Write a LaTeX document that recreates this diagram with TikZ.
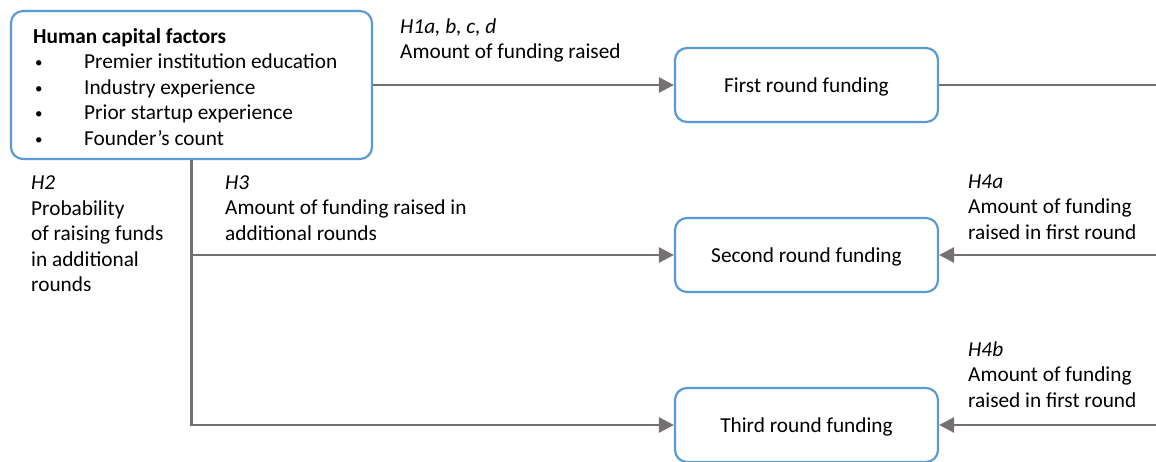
\documentclass[tikz,border=0pt]{standalone}
\usepackage{fontspec}
\setmainfont{Carlito}
\usetikzlibrary{arrows.meta}
\definecolor{boxblue}{RGB}{91,155,213}
\definecolor{arrgray}{RGB}{118,113,113}
\newcommand{\smbullet}{\makebox[51pt][l]{\hspace*{2pt}\raisebox{1pt}{\fontsize{15}{15}\selectfont•}}}
\begin{document}
\begin{tikzpicture}[x=1pt,y=-1pt,
  rbox/.style={draw=boxblue, line width=2.2pt, rounded corners=12pt, fill=white, inner sep=0pt,
    font=\fontsize{21.3}{25}\selectfont},
  conn/.style={draw=arrgray, line width=2.6pt},
  arr/.style={conn, -{Triangle[length=15pt,width=15pt]}},
  lbl/.style={anchor=north west, inner sep=0pt, align=left, font=\fontsize{21.3}{25.3}\selectfont},
  ]
\clip (0,0) rectangle (1156,461);
\useasboundingbox (0,0) rectangle (1156,461);
\fill[white] (0,0) rectangle (1156,461);

% boxes
\node[rbox, minimum width=361pt, minimum height=148pt] (hc) at (191.5,85) {};
\node[rbox, minimum width=263pt, minimum height=74pt, text height=14pt, text depth=0pt] (first) at (806.5,85) {First round funding};
\node[rbox, minimum width=263pt, minimum height=74pt, text height=14pt, text depth=0pt] (second) at (806.5,255) {Second round funding};
\node[rbox, minimum width=263pt, minimum height=74pt, text height=14pt, text depth=0pt] (third) at (806.5,425) {Third round funding};

% text of the human capital box
\node[lbl, font=\fontsize{21.3}{25.5}\selectfont] (hctext) at (33,25) {\strut\textbf{Human capital factors}\\
\smbullet Premier institution education\\
\smbullet Industry experience\\
\smbullet Prior startup experience\\
\smbullet Founder’s count};

% free ends at the right margin
\coordinate (r1) at (1156,85);
\coordinate (r2) at (1156,255);
\coordinate (r3) at (1156,425);

% connectors
\draw[arr] (hc.east) -- (first.west);
\draw[conn] (first.east) -- (r1);
\draw[arr] (r2) -- (second.east);
\draw[arr] (r3) -- (third.east);
\draw[arr] (hc.south) |- (third.west);
\draw[arr] (hc.south |- second.west) -- (second.west);

% labels
\node[lbl] (h1) at (400,15.5) {\strut\textit{H1a, b, c, d}\\Amount of funding raised};
\node[lbl, font=\fontsize{21.3}{25.5}\selectfont] (h2) at (31,171.5) {\strut\textit{H2}\\Probability\\of raising funds\\in additional\\rounds};
\node[lbl] (h3) at (225,171.5) {\strut\textit{H3}\\Amount of funding raised in\\additional rounds};
\node[lbl] (h4a) at (968,170.5) {\strut\textit{H4a}\\Amount of funding\\raised in first round};
\node[lbl] (h4b) at (968,338.5) {\strut\textit{H4b}\\Amount of funding\\raised in first round};
\end{tikzpicture}
\end{document}
